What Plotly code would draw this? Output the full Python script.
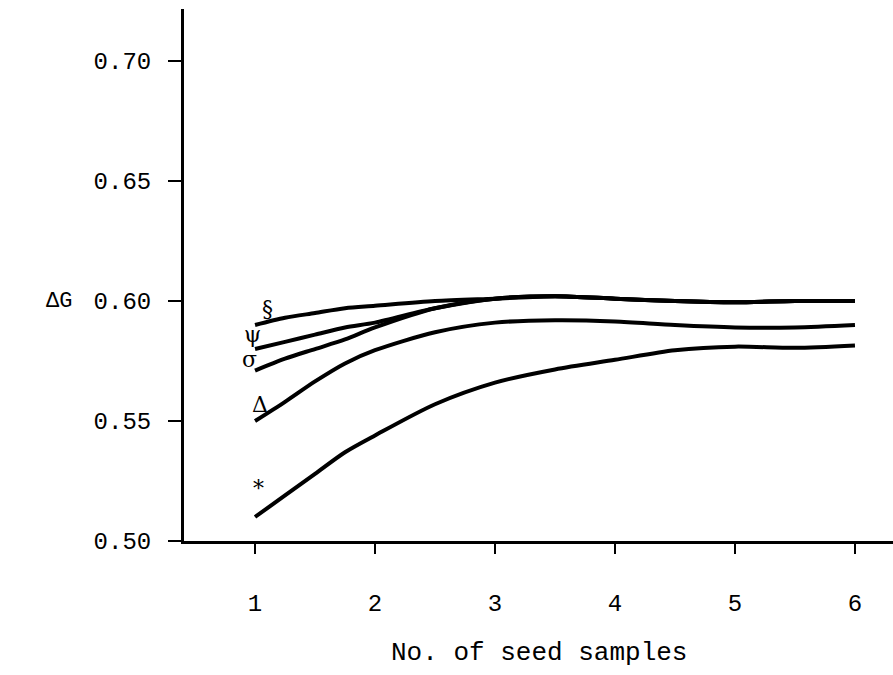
import plotly.graph_objects as go

# Data
x_vals = [1, 1.25, 1.5, 1.75, 2, 2.5, 3, 3.5, 4, 4.5, 5, 5.5, 6]
series_section = [0.590, 0.593, 0.595, 0.597, 0.598, 0.600, 0.601, 0.602, 0.601, 0.600, 0.5995, 0.600, 0.600]
series_psi     = [0.580, 0.583, 0.586, 0.589, 0.591, 0.597, 0.601, 0.602, 0.601, 0.600, 0.5995, 0.600, 0.600]
series_sigma   = [0.571, 0.576, 0.580, 0.584, 0.589, 0.597, 0.601, 0.602, 0.601, 0.600, 0.5995, 0.600, 0.600]
series_delta   = [0.550, 0.558, 0.5665, 0.574, 0.5795, 0.587, 0.591, 0.592, 0.5915, 0.590, 0.589, 0.589, 0.590]
series_star    = [0.510, 0.519, 0.528, 0.537, 0.544, 0.557, 0.566, 0.5715, 0.5755, 0.5795, 0.581, 0.5805, 0.5815]

series = [series_section, series_psi, series_sigma, series_delta, series_star]
symbols = ["§", "ψ", "σ", "Δ", "*"]
symbol_x = [1.10, 0.98, 0.95, 1.04, 1.03]
symbol_y = [0.597, 0.586, 0.5755, 0.5567, 0.522]

x_ticks = [1, 2, 3, 4, 5, 6]
y_ticks = [0.50, 0.55, 0.60, 0.65, 0.70]
y_tick_text = ["0.50", "0.55", "0.60", "0.65", "0.70"]

FONT = "Liberation Mono, Courier New, monospace"

fig = go.Figure()
for s in series:
    fig.add_trace(go.Scatter(x=x_vals, y=s, mode="lines",
                             line=dict(color="black", width=4, shape="spline", smoothing=0.8),
                             showlegend=False, hoverinfo="skip"))

for sym, sx, sy in zip(symbols, symbol_x, symbol_y):
    fig.add_annotation(x=sx, y=sy, text=sym, showarrow=False,
                       font=dict(family="DejaVu Serif, serif", size=22, color="black"))

fig.add_annotation(xref="paper", yref="y", x=-0.155, y=0.60, text="ΔG", showarrow=False,
                   xanchor="right", font=dict(family=FONT, size=22, color="black"))
fig.add_annotation(xref="paper", yref="paper", x=0.5, y=-0.2105, text="No. of seed samples",
                   showarrow=False, yanchor="middle",
                   font=dict(family=FONT, size=26, color="black"))

fig.update_layout(
    width=893, height=675,
    margin=dict(l=184, r=0, t=9, b=134),
    paper_bgcolor="white", plot_bgcolor="white",
    font=dict(family=FONT, size=24, color="black"),
)
fig.update_xaxes(range=[0.408, 6.317], tickvals=x_ticks, showgrid=False, zeroline=False,
                 showline=True, linecolor="black", linewidth=3,
                 ticks="outside", ticklen=10, tickwidth=2, tickcolor="black",
                 ticklabelstandoff=28)
fig.update_yaxes(range=[0.50, 0.7217], tickvals=y_ticks, ticktext=y_tick_text,
                 showgrid=False, zeroline=False,
                 showline=True, linecolor="black", linewidth=3,
                 ticks="outside", ticklen=13, tickwidth=2, tickcolor="black",
                 ticklabelstandoff=12)

fig.write_html("out.html")
